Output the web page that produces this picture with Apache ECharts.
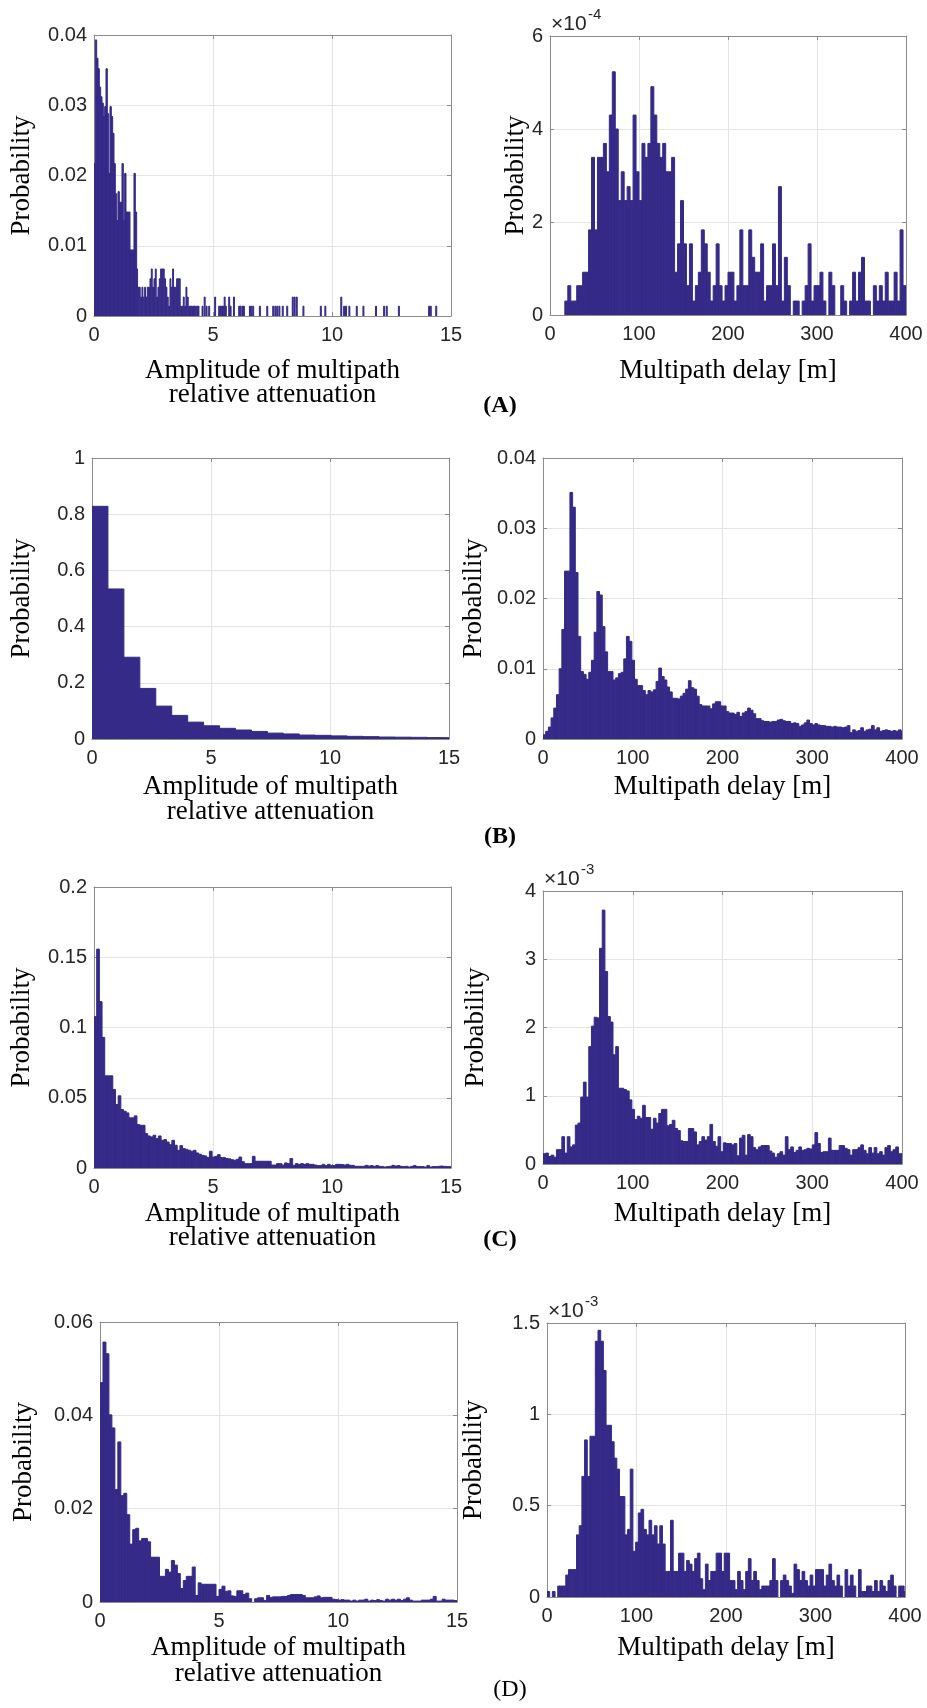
<!DOCTYPE html>
<html><head><meta charset="utf-8">
<script src="https://cdn.jsdelivr.net/npm/echarts@6/dist/echarts.min.js"></script>
<style>html,body{margin:0;padding:0;background:#fff}#c{width:927px;height:1708px}</style>
</head><body><div id="c"></div>
<script>
// ---------------- DATA ----------------
// (A) left: amplitude histogram, dense part bins of 0.056 starting at 0
const aLeftBin = 0.056;
const aLeftDense = [0.0217,0.0393,0.0367,0.0352,0.0326,0.0312,0.0303,0.0284,0.0298,0.0352,0.0288,0.0203,0.0298,0.0284,0.0260,0.0217,0.0174,0.0136,0.0177,0.0162,0.0162,0.0217,0.0136,0.0203,0.0148,0.0148,0.0148,0.0094,0.0094,0.0094,0.0203,0.0148,
 0.0067,0.0041,0.0041,0.0027,0.0041,0.0027,0.0041,0.0027,0.0041,0.0041,0.0053,0.0067,0.0041,0.0053,0.0067,0.0027,0.0041,0.0053,0.0067,0.0067,0.0067,0.0053,0.0041,0.0027,0.0014,0.0053,0.0041,0.0067,0.0041,0.0041,0.0053,0.0053,0.0053,0.0014,0.0014,0.0027,0.0014,0.0041,0.0027,0.0014,0.0014,0.0014,0.0014,0.0014,0.0014];
// (A) left: isolated tail spikes (position, probability)
const aLeftTailX = [4.32,4.37,4.54,4.63,4.71,4.82,5.07,5.24,5.30,5.36,5.41,5.47,5.52,5.66,5.72,5.86,6.08,6.14,6.22,6.28,6.53,6.59,6.67,6.95,7.26,7.51,7.60,7.68,7.77,7.91,8.10,8.33,8.41,8.50,8.78,9.51,9.70,10.37,10.49,10.57,10.71,11.02,11.30,11.83,12.17,12.28,12.79,14.06,14.13,14.36];
const aLeftTailP = [0.0014,0.0014,0.0014,0.0027,0.0014,0.0014,0.0027,0.0014,0.0014,0.0014,0.0014,0.0027,0.0014,0.0027,0.0014,0.0027,0.0014,0.0014,0.0014,0.0014,0.0014,0.0014,0.0014,0.0014,0.0014,0.0014,0.0014,0.0014,0.0014,0.0014,0.0014,0.0027,0.0027,0.0027,0.0014,0.0014,0.0014,0.0027,0.0014,0.0014,0.0014,0.0014,0.0014,0.0014,0.0014,0.0014,0.0014,0.0014,0.0014,0.0014];
// (A) right: delay histogram, bins of 400/120 m, values x1e-4
const aRightBin = 400/120;
const aRightVals = [0,0,0,0,0,
 0.30,0.63,0.30,0.30,0.63,0.63,0.92,0.92,1.83,3.39,1.83,3.39,3.39,3.69,3.08,4.30,5.23,4.00,2.46,3.08,2.46,2.76,2.46,4.30,3.08,2.46,3.69,3.39,3.69,4.91,4.30,3.69,3.39,3.69,3.08,3.08,3.39,
 0.92,1.53,2.46,1.53,0.63,1.53,0.30,0.63,0.92,1.83,1.53,0.92,0.30,0.63,1.53,0.63,0.30,0.63,0.92,0.92,0.30,0.63,1.83,0.63,0.63,1.83,1.24,0.92,0.92,1.53,
 0.30,0.63,0.63,1.53,0.63,2.76,0.30,1.24,0.63,0,0.30,0.30,0,0.30,0.63,1.53,0.30,0.63,0.63,0.92,0.30,0,0.92,0.63,0,0,0.63,0.30,0,0.30,
 0.92,0.30,0.92,1.24,0.30,0.30,0,0.63,0.30,0.63,0.30,0.92,0.30,0.30,0.92,0.30,1.83,0.63];
// (B) left: bins of 0.67
const bLeftBin = 0.67;
const bLeftVals = [0.828,0.534,0.291,0.180,0.117,0.084,0.060,0.047,0.038,0.032,0.027,0.021,0.018,0.014,0.013,0.011,0.0095,0.0083,0.007,0.0065,0.006,0.005,0.0047];
// (B) right: bins of 3 m
const bRightBin = 3;
const bRightVals = [0.0006,0.0011,0.0017,0.0030,0.0044,0.0063,0.0100,0.0156,0.0239,0.0239,
 0.0351,0.0330,0.0237,0.0146,0.0096,0.0092,0.0085,0.0095,0.0112,0.0152,
 0.0210,0.0205,0.0160,0.0124,0.0096,0.0096,0.0084,0.0087,0.0093,0.0095,
 0.0114,0.0146,0.0139,0.0112,0.0085,0.0076,0.0076,0.0069,0.0063,0.0069,
 0.0067,0.0070,0.0082,0.0101,0.0089,0.0084,0.0074,0.0067,0.0058,0.0058,
 0.0057,0.0061,0.0065,0.0071,0.0083,0.0073,0.0071,0.0061,0.0049,0.0047,
 0.0047,0.0047,0.0043,0.0050,0.0053,0.0053,0.0047,0.0047,0.0039,0.0037,
 0.0037,0.0035,0.0038,0.0032,0.0037,0.0039,0.0044,0.0041,0.0036,0.0029,
 0.0029,0.0026,0.0025,0.0025,0.0024,0.0025,0.0025,0.0027,0.0028,0.0026,
 0.0025,0.0025,0.0022,0.0023,0.0022,0.0018,0.0020,0.0023,0.0027,0.0022,
 0.0020,0.0022,0.0020,0.0019,0.0019,0.0018,0.0018,0.0017,0.0018,0.0017,
 0.0017,0.0016,0.0017,0.0019,0.0009,0.0013,0.0011,0.0012,0.0016,0.0011,
 0.0013,0.0014,0.0019,0.0013,0.0016,0.0011,0.0012,0.0013,0.0012,0.0011,
 0.0012,0.0011,0.0013,0.0011];
// (C) left: bins of 15/133
const cLeftBin = 15/133;
const cLeftVals = [0.1077,0.1558,0.1184,0.0930,0.0656,0.0656,0.0656,0.0559,0.0452,0.0514,
 0.0416,0.0404,0.0392,0.0357,0.0357,0.0371,0.0309,0.0304,0.0304,0.0245,
 0.0228,0.0221,0.0233,0.0209,0.0228,0.0197,0.0202,0.0185,0.0166,0.0197,
 0.0162,0.0126,0.0159,0.0138,0.0133,0.0126,0.0119,0.0126,0.0107,0.0098,
 0.0090,0.0086,0.0074,0.0119,0.0078,0.0083,0.0095,0.0074,0.0074,0.0067,
 0.0065,0.0059,0.0055,0.0062,0.0078,0.0045,0.0031,0.0031,0.0031,0.0083,
 0.0048,0.0048,0.0048,0.0048,0.0048,0.0048,0.0021,0.0021,0.0031,0.0031,
 0.0021,0.0036,0.0031,0.0067,0.0019,0.0031,0.0026,0.0031,0.0026,0.0031,
 0.0026,0.0026,0.0021,0.0017,0.0017,0.0026,0.0017,0.0026,0.0017,0.0017,
 0.0026,0.0026,0.0024,0.0021,0.0026,0.0019,0.0019,0.0012,0.0012,0.0012,
 0.0012,0.0019,0.0014,0.0017,0.0012,0.0017,0.0012,0.0010,0.0007,0.0010,
 0.0012,0.0019,0.0014,0.0017,0.0012,0.0010,0.0012,0.0007,0.0012,0.0017,
 0.0010,0.0010,0.0010,0.0007,0.0017,0.0007,0.0010,0.0010,0.0012,0.0014,
 0.0012,0.0010,0.0010];
// (C) right: bins of 3 m, values x1e-3
const cRightBin = 3;
const cRightVals = [0.15,0.16,0.11,0.13,0.10,0.21,0.21,0.40,0.16,0.40,
 0.25,0.28,0.57,0.60,0.98,1.20,0.98,1.72,2.02,2.15,
 2.14,3.16,3.72,2.82,2.16,2.08,1.60,1.72,1.11,1.11,
 1.09,1.07,0.94,0.80,0.65,0.70,0.67,0.86,0.68,0.68,
 0.51,0.67,0.60,0.74,0.80,0.80,0.56,0.58,0.64,0.52,
 0.49,0.34,0.33,0.33,0.52,0.52,0.47,0.28,0.33,0.40,
 0.35,0.40,0.58,0.33,0.26,0.40,0.18,0.31,0.30,0.30,
 0.28,0.30,0.12,0.38,0.42,0.13,0.43,0.40,0.24,0.21,
 0.25,0.27,0.27,0.27,0.19,0.16,0.10,0.15,0.18,0.13,
 0.40,0.21,0.25,0.17,0.20,0.25,0.20,0.21,0.23,0.22,
 0.28,0.46,0.30,0.17,0.18,0.18,0.38,0.20,0.20,0.20,
 0.27,0.27,0.23,0.21,0.13,0.21,0.21,0.24,0.28,0.20,
 0.15,0.24,0.16,0.24,0.15,0.18,0.13,0.24,0.27,0.18,
 0.21,0.25,0.15,0.15];
// (D) left: bins of 0.125
const dLeftBin = 0.125;
const dLeftVals = [0.0470,0.0557,0.0532,0.0401,0.0373,0.0241,0.0343,0.0228,0.0233,0.0187,
 0.0124,0.0155,0.0158,0.0131,0.0136,0.0136,0.0129,0.0096,0.0096,0.0096,
 0.0055,0.0055,0.0070,0.0064,0.0089,0.0079,0.0061,0.0029,0.0046,0.0055,
 0.0055,0.0075,0.0014,0.0041,0.0038,0.0038,0.0038,0.0038,0.0038,0.0012,
 0.0027,0.0034,0.0023,0.0024,0.0013,0.0012,0.0024,0.0024,0.0016,0.0019,
 0.0007,0,0.0007,0.0009,0.0009,0.0003,0.0014,0.0010,0.0011,0.0011,
 0.0011,0.0012,0.0012,0.0014,0.0016,0.0016,0.0016,0.0016,0.0014,0.0009,
 0.0009,0.0009,0.0011,0.0013,0.0009,0.0010,0.0010,0.0010,0.0006,0.0005,
 0.0004,0.0005,0.0004,0.0004,0.0002,0.0004,0.0002,0.0004,0.0004,0.0006,
 0.0002,0.0004,0.0003,0.0005,0.0003,0.0002,0.0006,0.0004,0.0006,0.0004,
 0.0006,0.0003,0.0006,0.0009,0.0004,0.0002,0.0002,0.0002,0.0004,0.0004,
 0.0004,0.0006,0.0012,0.0002,0.0002,0.0006,0.0004,0.0004,0.0004,0.0003];
// (D) right: bins of 3 m, values x1e-3
const dRightBin = 3;
const dRightVals = [0.03,0,0.03,0,0.06,0.06,0.06,0.12,0.15,0.15,
 0.15,0.34,0.39,0.66,0.86,0.66,0.88,0.88,1.40,1.46,
 1.40,1.24,0.94,0.94,0.85,0.76,0.70,0.55,0.55,0.34,
 0.37,0.70,0.25,0.30,0.46,0.48,0.37,0.34,0.42,0.34,
 0.39,0.29,0.39,0.29,0.14,0.14,0.42,0.14,0.14,0.24,
 0.24,0.14,0.20,0.18,0.14,0.21,0.24,0.10,0.04,0.18,
 0.09,0.14,0.14,0.24,0.24,0.14,0.24,0.24,0.09,0.09,
 0.04,0.14,0.09,0.04,0.14,0.21,0.09,0.14,0.09,0.04,
 0.06,0.06,0.06,0.09,0.21,0.09,0,0.09,0.12,0.09,
 0.06,0.02,0.18,0.15,0.09,0.14,0.09,0.06,0.12,0.06,
 0.15,0.15,0.15,0.06,0.12,0.18,0.09,0.06,0.12,0.06,
 0,0.15,0.06,0.12,0.06,0,0.15,0.03,0.03,0.06,
 0.06,0.03,0.09,0.03,0.09,0.06,0.03,0.09,0.12,0.06,
 0,0.06,0.06,0.03];
// Axis ranges / ticks
const ampAxis = {max:15, interval:5};
const delayAxis = {max:400, interval:100};
const yRanges = [
  {max:0.04, interval:0.01}, {max:6, interval:2},
  {max:1, interval:0.2},     {max:0.04, interval:0.01},
  {max:0.2, interval:0.05},  {max:4, interval:1},
  {max:0.06, interval:0.02}, {max:1.5, interval:0.5}
];
const exponents = [null, '-4', null, null, null, '-3', null, '-3'];
const rowLabels = ['(A)', '(B)', '(C)', '(D)'];
const xTitleLeft = ['Amplitude of multipath', 'relative attenuation'];
const xTitleRight = 'Multipath delay [m]';
const yTitle = 'Probability';

// ---------------- BUILD ----------------
const COLOR = '#352A87';
function bins(vals, w, xMax, frac) {
  const out = [];
  vals.forEach((v, i) => {
    if (v > 0) out.push([i*w, Math.min(i*w + w*(frac||1), xMax), v]);
  });
  return out;
}
const aLeftData = [];
aLeftDense.forEach((v, i) => {
  if (v > 0) aLeftData.push([i*aLeftBin, i*aLeftBin + aLeftBin*(i < 32 ? 1 : 0.65), v]);
});
aLeftTailX.forEach((x, i) => aLeftData.push([x, x + 0.04, aLeftTailP[i]]));

const panelData = [
  aLeftData,
  bins(aRightVals, aRightBin, 400),
  bins(bLeftVals, bLeftBin, 15),
  bins(bRightVals, bRightBin, 400),
  bins(cLeftVals, cLeftBin, 15),
  bins(cRightVals, cRightBin, 400),
  bins(dLeftVals, dLeftBin, 15),
  bins(dRightVals, dRightBin, 400)
];
// plot boxes [left, top, width, height]
const boxes = [
  [94, 35, 357, 281], [550, 36, 356, 279],
  [92, 458, 357, 281], [543, 458, 359, 281],
  [94, 887, 357, 281], [543, 891, 359, 273],
  [100, 1322, 357, 280], [547, 1323, 358, 274]
];

const AX = '#8c8c8c';
const grids = [], xAxes = [], yAxes = [], series = [];
boxes.forEach((b, i) => {
  grids.push({left: b[0], top: b[1], width: b[2], height: b[3], containLabel: false});
  const xr = (i % 2 === 0) ? ampAxis : delayAxis;
  const yr = yRanges[i];
  const base = {
    gridIndex: i, type: 'value', min: 0,
    axisLine: {show: true, onZero: false, lineStyle: {color: AX, width: 1}},
    axisTick: {show: true, inside: true, length: 4, lineStyle: {color: AX}}
  };
  xAxes.push(Object.assign({}, base, {position: 'bottom', max: xr.max, interval: xr.interval,
    splitLine: {show: true, lineStyle: {color: '#e4e4e4'}},
    axisLabel: {color: '#262626', fontFamily: 'Liberation Sans', fontSize: 20, margin: 9}}));
  xAxes.push(Object.assign({}, base, {position: 'top', max: xr.max, interval: xr.interval,
    splitLine: {show: false}, axisLabel: {show: false}}));
  yAxes.push(Object.assign({}, base, {position: 'left', max: yr.max, interval: yr.interval,
    splitLine: {show: true, lineStyle: {color: '#e4e4e4'}},
    axisLabel: {color: '#262626', fontFamily: 'Liberation Sans', fontSize: 20, margin: 7}}));
  yAxes.push(Object.assign({}, base, {position: 'right', max: yr.max, interval: yr.interval,
    splitLine: {show: false}, axisLabel: {show: false}}));
  series.push({
    type: 'custom', xAxisIndex: 2*i, yAxisIndex: 2*i, clip: true,
    data: panelData[i], encode: {x: [0, 1], y: 2},
    renderItem: function (params, api) {
      const p0 = api.coord([api.value(0), api.value(2)]);
      const p1 = api.coord([api.value(1), 0]);
      return {type: 'rect', shape: {x: p0[0], y: p0[1], width: Math.max(p1[0] - p0[0], 0.9), height: p1[1] - p0[1]},
        style: {fill: COLOR, stroke: COLOR, lineWidth: 1}};
    }
  });
});

// texts
const SERIF = 'Liberation Serif';
const graphics = [];
function txt(x, y, text, size, opt) {
  opt = opt || {};
  graphics.push({type: 'text', x: x, y: y, rotation: opt.rot || 0, silent: true,
    style: {text: text, fill: opt.color || '#000', font: (opt.weight || 'normal') + ' ' + size + 'px "' + (opt.family || SERIF) + '"',
      align: opt.align || 'center', verticalAlign: 'middle', textAlign: opt.align || 'center', textVerticalAlign: 'middle'}});
}
const titleY = [[371, 395, 371, 406], [787, 812, 787, 837], [1214, 1238, 1214, 1240], [1648, 1674, 1648, 1690]];
const labelX = [500, 500, 500, 510];
const probX = [22, 516, 22, 474, 22, 476, 24, 474];
boxes.forEach((b, i) => {
  const cx = b[0] + b[2]/2, cy = b[1] + b[3]/2;
  const row = Math.floor(i/2);
  txt(probX[i], cy, yTitle, 27, {rot: Math.PI/2});
  if (i % 2 === 0) {
    txt(cx, titleY[row][0], xTitleLeft[0], 27);
    txt(cx, titleY[row][1], xTitleLeft[1], 27);
  } else {
    txt(cx, titleY[row][2], xTitleRight, 27);
  }
  if (exponents[i]) {
    txt(b[0] + 1, b[1] - 12, '\u00d710', 21, {align: 'left', family: 'Liberation Sans', color: '#262626'});
    txt(b[0] + 38, b[1] - 21, exponents[i], 15, {align: 'left', family: 'Liberation Sans', color: '#262626'});
  }
});
rowLabels.forEach((t, r) => txt(labelX[r], titleY[r][3], t, 24, {weight: r < 3 ? 'bold' : 'normal'}));

const chart = echarts.init(document.getElementById('c'), null, {renderer: 'canvas'});
chart.setOption({
  animation: false, backgroundColor: '#fff',
  grid: grids, xAxis: xAxes, yAxis: yAxes, series: series, graphic: graphics
});
</script></body></html>
